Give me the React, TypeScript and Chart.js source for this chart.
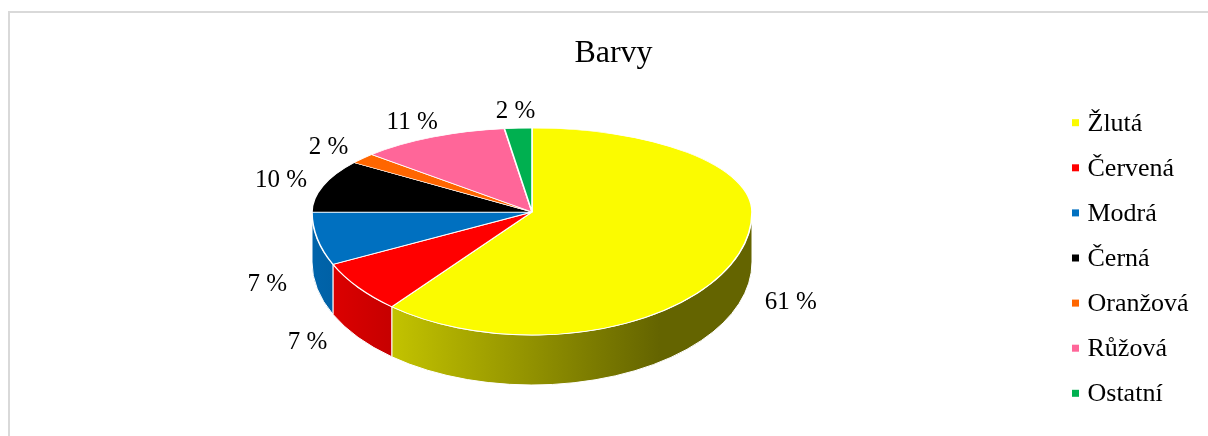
import React, { useEffect, useRef } from 'react';
import { Chart, registerables } from 'chart.js';

Chart.register(...registerables);

const chartTitle = 'Barvy';
const categories = ['Žlutá', 'Červená', 'Modrá', 'Černá', 'Oranžová', 'Růžová', 'Ostatní'];
const shares = [61, 7, 7, 10, 2, 11, 2];
const sliceColors = ['#FBFB00', '#FF0000', '#0070C0', '#000000', '#FF6600', '#FF6699', '#00B050'];

const W = 1208;
const H = 436;
const CX = 532;
const CY = 212;
const RX = 220;
const RY_TOP = 84;
const RY_BOTTOM = 123;
const DEPTH = 50;
const SERIF = '"Liberation Serif", "Times New Roman", serif';

function shade(hex: string, f: number): string {
  const h = hex.replace('#', '');
  const r = Math.round(parseInt(h.slice(0, 2), 16) * f);
  const g = Math.round(parseInt(h.slice(2, 4), 16) * f);
  const b = Math.round(parseInt(h.slice(4, 6), 16) * f);
  return `rgb(${r},${g},${b})`;
}

const pie3d = {
  id: 'pie3d',
  beforeDraw(chart: any) {
    const ctx = chart.ctx;
    ctx.save();
    ctx.fillStyle = '#FFFFFF';
    ctx.fillRect(0, 0, W, H);
    ctx.strokeStyle = '#D9D9D9';
    ctx.lineWidth = 2;
    ctx.strokeRect(9, 12, W + 20, H + 20);
    ctx.restore();
  },
  beforeDatasetDraw(chart: any, args: any) {
    const meta = args.meta;
    const ctx = chart.ctx;
    const arcs = meta.data;
    if (!arcs || !arcs.length) return;
    const ax = arcs[0].x;
    const ay = arcs[0].y;
    const R = arcs[0].outerRadius;

    // side walls (front half only)
    ctx.save();
    arcs.forEach((arc: any) => {
      const s = Math.max(arc.startAngle, 0);
      const e = Math.min(arc.endAngle, Math.PI);
      if (e <= s) return;
      const base = arc.options.backgroundColor as string;
      const grad = ctx.createLinearGradient(CX - RX, 0, CX + RX, 0);
      grad.addColorStop(0, shade(base, 0.89));
      grad.addColorStop(0.79, shade(base, 0.4));
      grad.addColorStop(1, shade(base, 0.4));
      ctx.beginPath();
      ctx.ellipse(CX, CY, RX, RY_BOTTOM, 0, s, e, false);
      ctx.ellipse(CX, CY + DEPTH, RX, RY_BOTTOM, 0, e, s, true);
      ctx.closePath();
      ctx.fillStyle = grad;
      ctx.fill();
      ctx.strokeStyle = '#FFFFFF';
      ctx.lineWidth = 1;
      ctx.stroke();
    });
    ctx.restore();

    // top face: back half and front half with different foreshortening
    const halves: Array<[number, number, number]> = [
      [0, CY, RY_TOP],
      [CY, H - CY, RY_BOTTOM],
    ];
    for (const [y0, h, ry] of halves) {
      ctx.save();
      ctx.beginPath();
      ctx.rect(0, y0, W, h);
      ctx.clip();
      ctx.translate(CX, CY);
      ctx.scale(RX / R, ry / R);
      ctx.translate(-ax, -ay);
      meta.controller.draw();
      ctx.restore();
    }
    return false;
  },
  afterDraw(chart: any) {
    const ctx = chart.ctx;
    const meta = chart.getDatasetMeta(0);
    ctx.save();

    // data labels
    ctx.fillStyle = '#000000';
    ctx.font = `25px ${SERIF}`;
    ctx.textAlign = 'center';
    ctx.textBaseline = 'middle';
    meta.data.forEach((arc: any, i: number) => {
      const mid = (arc.startAngle + arc.endAngle) / 2;
      const c = Math.cos(mid);
      const s = Math.sin(mid);
      const lower = s > 0;
      const ry = lower ? RY_BOTTOM : RY_TOP;
      const kx = lower ? 1.2 + 0.15 * s : 1.2;
      const x = CX + RX * kx * c;
      const y = CY + ry * 1.2 * s + (lower ? DEPTH * 0.8 : 0);
      ctx.fillText(`${shares[i]} %`, x, y);
    });

    // title
    ctx.font = `32px ${SERIF}`;
    ctx.textAlign = 'center';
    ctx.textBaseline = 'alphabetic';
    ctx.fillText(chartTitle, 613.5, 62);

    // legend
    const LX = 1072;
    const LY0 = 122.7;
    const STEP = 45.1;
    ctx.font = `26px ${SERIF}`;
    ctx.textAlign = 'left';
    categories.forEach((label, i) => {
      const y = LY0 + i * STEP;
      ctx.fillStyle = sliceColors[i];
      ctx.fillRect(LX, y - 3.5, 7, 7);
      ctx.fillStyle = '#000000';
      ctx.fillText(label, LX + 15.5, y + 8);
    });
    ctx.restore();
  },
};

export default function App() {
  const ref = useRef<HTMLCanvasElement | null>(null);
  useEffect(() => {
    if (!ref.current) return;
    const chart = new Chart(ref.current, {
      type: 'pie',
      data: {
        labels: categories,
        datasets: [
          {
            data: shares,
            backgroundColor: sliceColors,
            borderColor: '#FFFFFF',
            borderWidth: 1.5,
          },
        ],
      },
      options: {
        responsive: false,
        animation: false,
        events: [],
        layout: { padding: 10 },
        plugins: {
          legend: { display: false },
          title: { display: false },
          tooltip: { enabled: false },
        },
      },
      plugins: [pie3d as any],
    });
    return () => chart.destroy();
  }, []);
  return (
    <div style={{ position: 'fixed', left: 0, top: 0, width: W, height: H, background: '#fff' }}>
      <canvas ref={ref} width={W} height={H} style={{ display: 'block' }} />
    </div>
  );
}
